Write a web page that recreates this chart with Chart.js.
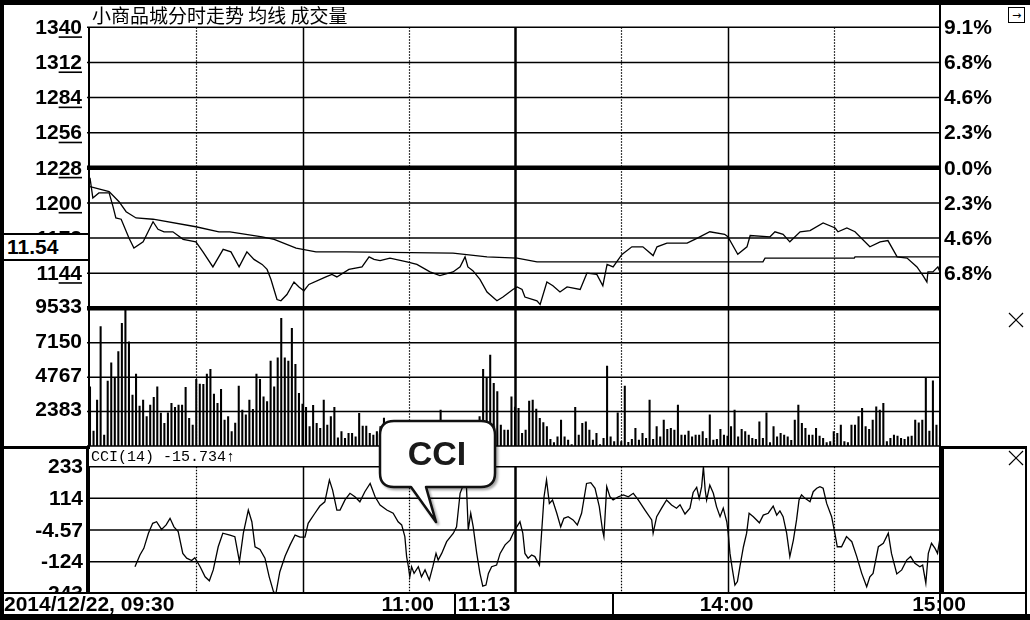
<!DOCTYPE html>
<html><head><meta charset="utf-8">
<script src="https://cdn.jsdelivr.net/npm/chart.js@4.4.1/dist/chart.umd.min.js"></script>
<style>
html,body{margin:0;padding:0;background:#fff;}
#wrap{position:relative;width:1030px;height:620px;overflow:hidden;background:#fff;}
canvas{position:absolute;left:0;top:0;}
.d{position:absolute;background:#000;}
#cur{position:absolute;left:2px;top:233px;width:81px;height:24px;border:2px solid #000;background:#fff;
 font:bold 21px "Liberation Sans",Arial,sans-serif;line-height:24px;padding-left:3px;color:#000;}
svg{position:absolute;left:0;top:0;}
</style></head><body>
<div id="wrap">
<canvas id="cPrice" width="1030" height="620"></canvas>
<canvas id="cVol" width="1030" height="620"></canvas>
<canvas id="cCci" width="1030" height="620"></canvas>

<div class="d" style="left:0;top:0;width:1030px;height:5px"></div>
<div class="d" style="left:0;top:0;width:4px;height:620px"></div>
<div class="d" style="left:0;top:614px;width:1030px;height:6px"></div>
<div class="d" style="left:939px;top:5px;width:2px;height:609px"></div>
<div class="d" style="left:0;top:446px;width:90px;height:3px"></div>
<div class="d" style="left:86px;top:446px;width:3px;height:148px"></div>
<div class="d" style="left:940px;top:446px;width:87px;height:3px"></div>
<div class="d" style="left:940px;top:446px;width:4px;height:148px"></div>
<div class="d" style="left:1025px;top:446px;width:2px;height:168px"></div>
<div class="d" style="left:0;top:592px;width:1027px;height:2px"></div>
<div class="d" style="left:454px;top:594px;width:2px;height:20px"></div>
<div class="d" style="left:612px;top:594px;width:2px;height:20px"></div>
<div id="cur"></div>

<svg width="1030" height="620" viewBox="0 0 1030 620">
 <rect x="1008.5" y="7.5" width="16" height="15" fill="#fff" stroke="#000" stroke-width="1"/>
 <text x="1016.5" y="19" font-family="DejaVu Sans, sans-serif" font-size="11" text-anchor="middle" fill="#000">→</text>
 <g stroke="#000" stroke-width="1.2">
  <line x1="1009" y1="313" x2="1023" y2="327"/><line x1="1009" y1="327" x2="1023" y2="313"/>
  <line x1="1009" y1="451" x2="1023" y2="465"/><line x1="1009" y1="465" x2="1023" y2="451"/>
 </g>
 <g style="filter:drop-shadow(2px 2px 1px rgba(0,0,0,0.35))">
  <path d="M 394 421 H 481 Q 495 421 495 435 V 473 Q 495 487 481 487 H 426 L 436 522 L 411 487 H 394 Q 380 487 380 473 V 435 Q 380 421 394 421 Z"
   fill="#fff" stroke="#111" stroke-width="2.5" stroke-linejoin="round"/>
 </g>
 <text id="bubbleText" x="437" y="465" font-family="Liberation Sans, Arial, sans-serif" font-weight="bold" font-size="34" text-anchor="middle" fill="#1a1a1a"></text>
</svg>
</div>
<script>
// ---------- DATA ----------
const TITLE = '小商品城分时走势 均线 成交量';
const BUBBLE = 'CCI';
const prevClose = 12.28;
const priceTicks = [13.40, 13.12, 12.84, 12.56, 12.28, 12.00, 11.72, 11.44, 11.16];
const priceTickLabels = ['1340', '1312', '1284', '1256', '1228', '1200', '1172', '1144'];
const pctTickLabels = ['9.1%', '6.8%', '4.6%', '2.3%', '0.0%', '2.3%', '4.6%', '6.8%'];
const volTicks = [9533, 7150, 4767, 2383, 0];
const volTickLabels = ['9533', '7150', '4767', '2383'];
const cciTicks = [233, 114, -4.57, -124, -243];
const cciTickLabels = ['233', '114', '-4.57', '-124', '-243'];
const gridMinutes = [30, 60, 90, 120, 150, 180, 210];
const dottedMinutes = [30, 90, 150, 210];
const timeTickMinutes = [90, 180, 240];
const timeTickLabels = ['11:00', '14:00', '15:00'];
const dateLabel = '2014/12/22, 09:30';
const cursorMinute = 103;
const cursorTime = '11:13';
const cursorPrice = '11.54';
const cciHeader = 'CCI(14) -15.734↑';

// price (minutes after 09:30, trading time)
const priceMin = [0,0.8,2.5,5.4,6.5,7.3,8.8,11.0,12.4,15.0,
 17.8,19.2,20.9,23.4,26.3,29.9,31.9,34.7,37.6,39.8,
 42.1,44.3,46.3,48.6,50.0,51.1,52.8,53.9,55.6,57.6,
 59.0,60.4,61.8,66.6,68.3,69.7,73.1,76.8,78.8,80.2,
 81.9,84.7,89.5,92.3,96.0,98.8,102.5,104.5,105.9,106.7,
 108.1,110.1,112.1,114.9,116.6,119.4,120.6,122.0,122.8,126.2,
 127.1,129.0,130.7,132.7,134.7,138.4,140.3,143.1,144.8,146.0,
 147.7,150.2,153.0,156.1,159.0,160.1,162.9,168.6,171.5,175.0,
 179.2,180.1,182.9,185.5,186.4,192.0,193.4,195.7,197.6,200.5,
 203.3,207.0,210.4,211.2,213.7,216.0,220.2,223.1,225.3,227.9,
 230.7,233.5,235.2,236.3,236.6,238.0,239.4,240];
const priceVal = [12.20,12.04,12.08,12.08,11.97,11.88,11.87,11.72,11.64,11.69,
 11.85,11.79,11.77,11.77,11.71,11.69,11.61,11.49,11.63,11.61,
 11.49,11.61,11.55,11.51,11.47,11.39,11.23,11.22,11.27,11.37,
 11.33,11.30,11.35,11.41,11.43,11.41,11.47,11.49,11.57,11.55,
 11.54,11.56,11.53,11.51,11.45,11.42,11.45,11.49,11.57,11.49,
 11.46,11.39,11.29,11.22,11.25,11.31,11.33,11.31,11.25,11.22,
 11.19,11.37,11.34,11.29,11.33,11.31,11.44,11.43,11.34,11.51,
 11.49,11.59,11.65,11.65,11.58,11.65,11.68,11.68,11.72,11.77,
 11.75,11.73,11.59,11.65,11.74,11.73,11.77,11.75,11.69,11.77,
 11.78,11.84,11.80,11.77,11.80,11.77,11.65,11.69,11.70,11.57,
 11.56,11.49,11.42,11.37,11.45,11.45,11.49,11.45];

// average price line
const avgMin = [0,5.4,8.2,10.2,13.0,17.8,29.9,36.4,39.5,48.6,52.0,58.2,63.8,72.3,102.5,112.1,120.6,126.2,190.0,190.6,215.8,216.0,240];
const avgVal = [12.13,12.09,12.01,11.93,11.88,11.87,11.81,11.77,11.77,11.73,11.71,11.64,11.61,11.61,11.60,11.57,11.56,11.53,11.53,11.56,11.56,11.57,11.57];

// volume per minute (0..240)
const volume = [
 4100,1040,3180,8260,760,4500,5760,4730,6530,8490,9410,7220,3530,4980,2770,3180,2030,2840,3370,4100,
 2280,1570,2300,2950,2680,2840,2840,4060,1920,1450,4620,4290,4270,4980,5310,3600,2950,3920,1800,2030,
 990,1590,4150,2490,2150,3180,2540,4980,4620,3410,3070,5880,4100,6110,8840,6110,5880,8140,5650,3650,
 2900,2680,1340,2820,1570,1220,3180,1450,2030,2680,570,990,530,880,880,640,2260,1380,1380,880,
 760,990,1340,1940,1100,900,1300,800,1200,1000,700,1400,900,1100,600,1000,1300,800,900,2490,
 1200,700,1000,1400,900,1100,800,1300,1500,1600,2030,5310,4750,6300,4340,3760,1450,1100,1100,3410,
 2700,2600,880,1110,3110,3180,2560,1920,1620,1340,460,230,640,1800,640,415,100,2680,760,1570,
 1680,1110,415,880,100,530,5540,640,300,2300,300,4150,250,460,1220,415,880,530,3180,460,
 1340,640,1800,1150,1220,1110,2840,760,760,1040,640,760,760,990,530,2150,415,460,1150,760,
 690,1340,2490,640,1150,990,760,530,460,1680,530,2300,230,1340,640,880,760,640,400,1800,
 2840,1570,1220,760,760,1220,690,530,230,300,990,880,1450,300,230,1450,1450,2030,2610,1340,
 1150,1800,2720,2490,2950,300,530,760,690,530,460,640,690,1800,1610,1800,4680,1040,4520,1450,
 600];

// CCI(14)
const cciMin = [12.7,14.1,15.2,16.5,17.7,18.8,20.2,21.5,22.6,23.7,
 24.9,26.2,27.3,28.7,29.6,31.1,32.5,33.7,34.8,36.2,
 37.5,39.5,40.9,42.2,43.3,44.7,45.7,46.6,48.0,49.4,
 50.6,51.8,52.5,53.6,55.1,56.5,57.9,59.3,60.7,61.6,
 63.5,64.9,66.3,67.6,68.5,69.7,70.6,72.0,73.4,74.8,
 76.2,77.6,79.1,80.5,81.9,83.8,85.6,87.0,88.0,88.9,
 89.4,89.9,90.3,90.8,91.5,92.7,93.6,94.6,95.8,96.8,
 97.7,98.3,99.3,100.7,102.6,103.5,104.5,105.4,106.2,106.8,
 107.5,108.2,109.2,110.1,110.9,111.8,112.5,113.4,114.8,115.8,
 117.2,118.6,119.5,120.5,121.4,122.2,122.8,123.7,124.7,125.6,
 126.9,127.5,128.2,128.9,129.7,130.6,131.8,132.9,133.8,135.0,
 136.4,137.6,138.8,140.2,141.4,142.6,143.8,144.7,145.1,145.9,
 146.8,147.7,149.2,150.6,152.0,153.4,154.8,156.7,158.6,159.0,
 160.0,161.4,162.8,164.2,165.6,166.6,168.0,169.4,170.3,171.3,
 172.0,172.7,173.2,173.7,174.1,175.0,176.0,176.9,177.9,178.8,
 179.8,180.2,180.7,181.4,182.1,182.8,183.5,184.5,185.4,186.1,
 187.3,189.0,190.1,191.5,192.9,193.9,194.8,195.7,196.7,197.6,
 198.6,199.5,200.2,200.9,201.9,203.3,204.2,205.2,206.1,207.0,
 208.0,209.4,210.3,211.0,212.2,213.6,215.1,216.5,217.9,219.3,
 220.2,221.1,222.6,224.0,225.4,226.3,227.8,229.2,230.6,231.7,
 232.9,234.3,235.1,236.0,236.7,237.6,238.6,239.3,239.9];
const cciVal = [-143,-99,-74,-17,20,26,-3,14,39,7,
 -11,-93,-111,-120,-109,-143,-181,-196,-155,-68,
 -17,-24,-30,-124,-17,70,26,-68,-78,-111,
 -181,-237,-243,-162,-103,-61,-24,-32,-32,20,
 58,85,101,183,145,70,70,108,133,120,
 101,139,170,120,89,70,58,26,14,-30,
 -105,-143,-181,-143,-168,-143,-181,-155,-193,-143,
 -93,-118,-93,-49,-17,7,133,164,190,-5,
 58,7,-93,-168,-216,-212,-168,-143,-137,-93,
 -61,-43,-17,7,26,-17,-93,-111,-99,-105,
 -137,-17,120,183,95,108,58,7,39,45,
 33,14,58,170,173,152,83,-5,-30,158,
 120,108,120,127,120,133,108,70,33,-17,
 45,77,108,89,77,90,55,77,136,155,
 114,158,233,145,108,164,133,83,45,77,
 26,-17,-93,-155,-212,-199,-143,-68,-17,58,
 45,22,51,58,85,51,67,45,-17,-105,
 -43,33,108,127,114,101,139,152,158,152,
 95,45,-17,-68,-68,-30,-49,-105,-168,-218,
 -181,-168,-68,-55,-17,-93,-170,-155,-118,-105,
 -130,-143,-137,-205,-93,-55,-74,-93,-43];

// ---------- RENDER ----------
document.getElementById('cur').textContent = cursorPrice;
document.getElementById('bubbleText').textContent = BUBBLE;

const LBL_FONT = 'bold 21px "Liberation Sans", Arial, sans-serif';
const pts = (xs, ys) => xs.map((x, i) => ({x: x, y: ys[i]}));

function hline(ctx, x1, x2, y, w) {
  ctx.save(); ctx.strokeStyle = '#000'; ctx.lineWidth = w; ctx.setLineDash([]);
  ctx.beginPath(); ctx.moveTo(x1, y); ctx.lineTo(x2, y); ctx.stroke(); ctx.restore();
}
function drawVerticals(ctx, xs, top, bottom) {
  gridMinutes.forEach(m => {
    const px = Math.round(xs.getPixelForValue(m)) + 0.5;
    ctx.save(); ctx.strokeStyle = '#000';
    if (dottedMinutes.includes(m)) { ctx.setLineDash([1.5, 1.5]); ctx.lineWidth = 1.2; }
    else { ctx.setLineDash([]); ctx.lineWidth = m === 120 ? 2.5 : 1.5; }
    ctx.beginPath(); ctx.moveTo(px, top); ctx.lineTo(px, bottom); ctx.stroke(); ctx.restore();
  });
  const lx = xs.getPixelForValue(0) - 1;
  ctx.save(); ctx.strokeStyle = '#000'; ctx.lineWidth = 2;
  ctx.beginPath(); ctx.moveTo(lx, top); ctx.lineTo(lx, bottom); ctx.stroke(); ctx.restore();
}

function baseOpts(pad, ymin, ymax) {
  return {
    responsive: false, animation: false, devicePixelRatio: 1, events: [],
    layout: {padding: pad},
    plugins: {legend: {display: false}, tooltip: {enabled: false}, title: {display: false}},
    scales: {
      x: {type: 'linear', min: 0, max: 240, display: false, offset: false, grid: {offset: false}},
      y: {type: 'linear', min: ymin, max: ymax, display: false}
    }
  };
}
const lineDs = (data, w) => ({type: 'line', data: data, borderColor: '#000', borderWidth: w,
  pointRadius: 0, fill: false, tension: 0});

// ---- Price panel ----
const pricePlugin = {
  id: 'priceDeco',
  beforeDatasetsDraw(chart) {
    const {ctx, chartArea: a, scales: {x, y}} = chart;
    drawVerticals(ctx, x, a.top, a.bottom);
    priceTicks.forEach((v, i) => {
      const last = i === priceTicks.length - 1;
      const w = (v === prevClose || last) ? 4.5 : 1.5;
      hline(ctx, 87, a.right, y.getPixelForValue(v), w);
    });
  },
  afterDraw(chart) {
    const {ctx, scales: {y}} = chart;
    ctx.save();
    ctx.fillStyle = '#000';
    ctx.font = '19px "Noto Sans CJK SC", sans-serif';
    ctx.textBaseline = 'middle'; ctx.textAlign = 'left';
    ctx.fillText(TITLE, 92, 16);
    ctx.font = LBL_FONT;
    ctx.textAlign = 'right';
    priceTickLabels.forEach((t, i) => {
      const py = y.getPixelForValue(priceTicks[i]);
      ctx.fillText(t, 82, py + 1);
      const w2 = ctx.measureText(t.slice(-2)).width;
      ctx.fillRect(82 - w2, py + 9, w2, 1.6);
    });
    ctx.textAlign = 'left';
    pctTickLabels.forEach((t, i) => ctx.fillText(t, 944, y.getPixelForValue(priceTicks[i]) + 1));
    ctx.restore();
  }
};
new Chart(document.getElementById('cPrice'), {
  type: 'line',
  data: {datasets: [lineDs(pts(priceMin, priceVal), 1.3), lineDs(pts(avgMin, avgVal), 1.3)]},
  options: baseOpts({left: 90, right: 90, top: 27.3, bottom: 311.7}, 11.16, 13.40),
  plugins: [pricePlugin]
});

// ---- Volume panel ----
const volPlugin = {
  id: 'volDeco',
  beforeDatasetsDraw(chart) {
    const {ctx, chartArea: a, scales: {x, y}} = chart;
    drawVerticals(ctx, x, a.top, a.bottom);
    volTicks.forEach((v, i) => { if (i > 0) hline(ctx, 87, a.right, y.getPixelForValue(v), 1.5); });
  },
  afterDraw(chart) {
    const {ctx, scales: {y}} = chart;
    ctx.save(); ctx.fillStyle = '#000'; ctx.font = LBL_FONT;
    ctx.textBaseline = 'middle'; ctx.textAlign = 'right';
    volTickLabels.forEach((t, i) => ctx.fillText(t, 82, y.getPixelForValue(volTicks[i]) - 1));
    ctx.restore();
  }
};
new Chart(document.getElementById('cVol'), {
  type: 'bar',
  data: {datasets: [{data: volume.map((v, i) => ({x: i, y: v})), backgroundColor: '#000',
    borderWidth: 0, barThickness: 1.4}]},
  options: baseOpts({left: 90, right: 90, top: 308.3, bottom: 174}, 0, 9533),
  plugins: [volPlugin]
});

// ---- CCI panel ----
const cciPlugin = {
  id: 'cciDeco',
  beforeDatasetsDraw(chart) {
    const {ctx, chartArea: a, scales: {x, y}} = chart;
    drawVerticals(ctx, x, a.top, a.bottom);
    cciTicks.forEach(v => hline(ctx, 88, a.right, y.getPixelForValue(v), 1.5));
  },
  afterDraw(chart) {
    const {ctx, scales: {x, y}} = chart;
    ctx.save(); ctx.fillStyle = '#000';
    ctx.font = '15px "Liberation Mono", "DejaVu Sans Mono", monospace';
    ctx.textBaseline = 'middle'; ctx.textAlign = 'left';
    ctx.fillText(cciHeader, 91, 457);
    ctx.save();
    ctx.beginPath(); ctx.rect(0, 449, 86, 143); ctx.clip();
    ctx.font = LBL_FONT; ctx.textAlign = 'right';
    cciTickLabels.forEach((t, i) => ctx.fillText(t, 83, y.getPixelForValue(cciTicks[i]) + 1));
    ctx.restore();
    ctx.font = LBL_FONT; ctx.textBaseline = 'middle';
    ctx.textAlign = 'left';
    ctx.fillText(dateLabel, 4, 605);
    ctx.fillText(cursorTime, x.getPixelForValue(cursorMinute) + 3, 605);
    ctx.textAlign = 'center';
    timeTickLabels.forEach((t, i) => ctx.fillText(t, x.getPixelForValue(timeTickMinutes[i]) - 1, 605));
    ctx.restore();
  }
};
new Chart(document.getElementById('cCci'), {
  type: 'line',
  data: {datasets: [lineDs(pts(cciMin, cciVal), 1.3)]},
  options: baseOpts({left: 90, right: 90, top: 466.7, bottom: 26.7}, -243, 233),
  plugins: [cciPlugin]
});
</script>
</body></html>
